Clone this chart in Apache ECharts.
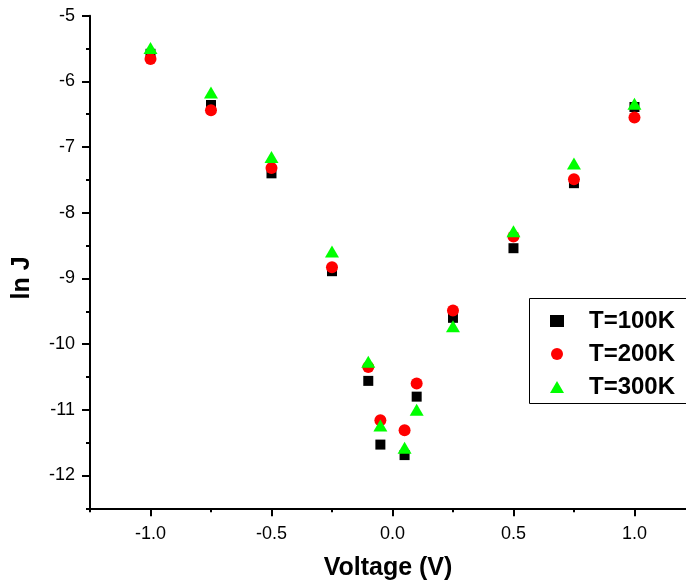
<!DOCTYPE html>
<html>
<head>
<meta charset="utf-8">
<script src="https://cdn.jsdelivr.net/npm/echarts@6/dist/echarts.min.js"></script>
<style>
  html, body { margin: 0; padding: 0; background: #fff; }
  #chart { width: 686px; height: 583px; }
</style>
</head>
<body>
<div id="chart"></div>
<script>
// Bias voltage (V) and ln of current density at three temperatures
var voltages = [-1.0, -0.75, -0.5, -0.25, -0.1, -0.05, 0.05, 0.1, 0.25, 0.5, 0.75, 1.0];
var lnJ100K = [-5.58, -6.36, -7.40, -8.89, -10.56, -11.53, -11.69, -10.80, -9.60, -8.54, -7.55, -6.39];
var lnJ200K = [-5.66, -6.44, -7.32, -8.83, -10.35, -11.16, -11.31, -10.60, -9.49, -8.36, -7.49, -6.55];
var lnJ300K = [-5.49, -6.17, -7.15, -8.59, -10.27, -11.24, -11.58, -11.00, -9.73, -8.28, -7.25, -6.34];

var seriesNames = ['T=100K', 'T=200K', 'T=300K'];

// Axis ranges and tick positions (the frame is cut at the right edge)
var xRange = [-1.25, 1.213];
var yRange = [-12.5, -5];
var xMajorTicks = [-1.0, -0.5, 0.0, 0.5, 1.0];
var xMinorTicks = [-1.25, -0.75, -0.25, 0.25, 0.75];
var yMajorTicks = [-12, -11, -10, -9, -8, -7, -6, -5];
var yMinorTicks = [-12.5, -11.5, -10.5, -9.5, -8.5, -7.5, -6.5, -5.5];

function pairs(xs, ys) {
  return xs.map(function (x, i) { return [x, ys[i]]; });
}

var FONT = '"Liberation Sans", Arial, sans-serif';
var lineStyle = { color: '#000', width: 2 };

var chart = echarts.init(document.getElementById('chart'), null, { renderer: 'canvas' });

chart.setOption({
  animation: false,
  backgroundColor: '#fff',
  grid: {
    left: 90, right: 0, top: 15.7, bottom: 74.7,
    containLabel: false, outerBoundsMode: 'none'
  },
  // legend frame, open past the right edge
  graphic: [{
    type: 'rect', left: 529, top: 298, z: 10, silent: true,
    shape: { width: 200, height: 105 },
    style: { fill: '#fff', stroke: '#000', lineWidth: 1 }
  }],
  legend: {
    orient: 'vertical',
    left: 529,
    top: 298,
    z: 20,
    data: seriesNames,
    itemWidth: 14,
    itemHeight: 12,
    itemGap: 9,
    padding: [11, 10, 4, 21],
    textStyle: {
      fontFamily: FONT, fontSize: 24, fontWeight: 'bold', color: '#000',
      lineHeight: 24, padding: [0, 0, 0, 20]
    }
  },
  xAxis: [
    {
      type: 'value', position: 'bottom', min: xRange[0], max: xRange[1],
      name: 'Voltage (V)', nameLocation: 'middle', nameGap: 47,
      nameTextStyle: { fontFamily: FONT, fontSize: 25, fontWeight: 'bold', color: '#000' },
      axisLine: { show: true, onZero: false, lineStyle: lineStyle },
      axisTick: { show: true, inside: false, length: 8, customValues: xMajorTicks, lineStyle: lineStyle },
      axisLabel: {
        customValues: xMajorTicks, margin: 17,
        fontFamily: FONT, fontSize: 18, color: '#000',
        formatter: function (v) { return v.toFixed(1); }
      },
      splitLine: { show: false }
    },
    {
      type: 'value', position: 'bottom', min: xRange[0], max: xRange[1],
      axisLine: { show: false, onZero: false },
      axisTick: { show: true, inside: false, length: 4, customValues: xMinorTicks, lineStyle: lineStyle },
      axisLabel: { show: false },
      splitLine: { show: false }
    }
  ],
  yAxis: [
    {
      type: 'value', position: 'left', min: yRange[0], max: yRange[1],
      name: 'ln J', nameLocation: 'middle', nameGap: 55,
      nameTextStyle: {
        fontFamily: FONT, fontSize: 25, fontWeight: 'bold', color: '#000',
        padding: [0, 32, 0, 0]
      },
      axisLine: { show: true, onZero: false, lineStyle: lineStyle },
      axisTick: { show: true, inside: false, length: 8, customValues: yMajorTicks, lineStyle: lineStyle },
      axisLabel: {
        customValues: yMajorTicks, margin: 15,
        fontFamily: FONT, fontSize: 18, color: '#000'
      },
      splitLine: { show: false }
    },
    {
      type: 'value', position: 'left', min: yRange[0], max: yRange[1],
      axisLine: { show: false, onZero: false },
      axisTick: { show: true, inside: false, length: 4, customValues: yMinorTicks, lineStyle: lineStyle },
      axisLabel: { show: false },
      splitLine: { show: false }
    }
  ],
  series: [
    {
      name: seriesNames[0], type: 'scatter', xAxisIndex: 0, yAxisIndex: 0,
      symbol: 'rect', symbolSize: 10,
      itemStyle: { color: '#000', opacity: 1 },
      data: pairs(voltages, lnJ100K), z: 2
    },
    {
      name: seriesNames[1], type: 'scatter', xAxisIndex: 0, yAxisIndex: 0,
      symbol: 'circle', symbolSize: 12,
      itemStyle: { color: '#ff0000', opacity: 1 },
      data: pairs(voltages, lnJ200K), z: 3
    },
    {
      name: seriesNames[2], type: 'scatter', xAxisIndex: 0, yAxisIndex: 0,
      symbol: 'triangle', symbolSize: [14, 12],
      itemStyle: { color: '#00ff00', opacity: 1 },
      data: pairs(voltages, lnJ300K), z: 4
    }
  ]
});
</script>
</body>
</html>
